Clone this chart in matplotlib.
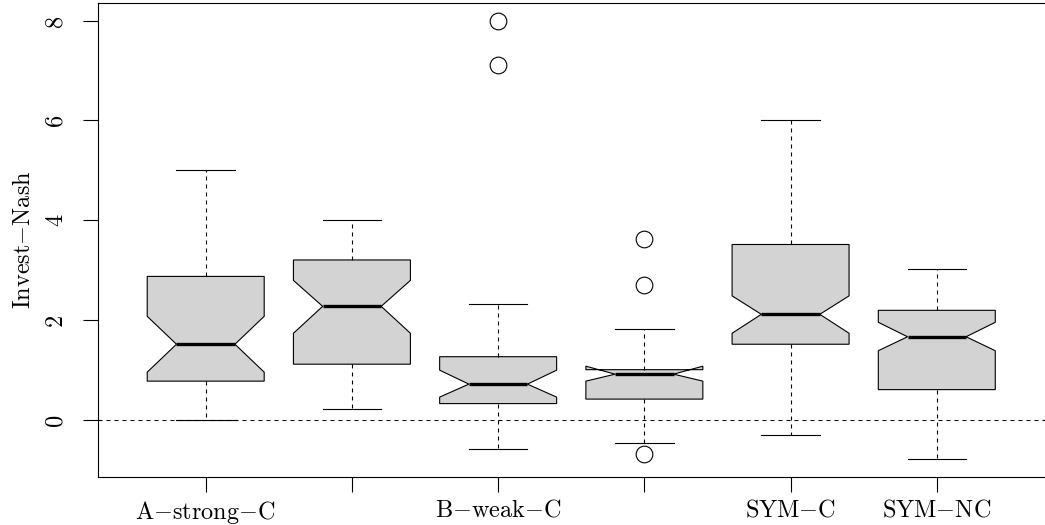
import matplotlib
matplotlib.use("Agg")
import matplotlib.pyplot as plt

# box statistics
labels = ["A$-$strong$-$C", "", "B$-$weak$-$C", "", "SYM$-$C", "SYM$-$NC"]
whislo = [0.0, 0.22, -0.6, -0.48, -0.3, -0.79]
q1 = [0.77, 1.11, 0.32, 0.41, 1.51, 0.60]
cilo = [0.95, 1.73, 0.45, 0.77, 1.73, 1.38]
med = [1.51, 2.27, 0.71, 0.91, 2.11, 1.66]
cihi = [2.07, 2.79, 0.99, 1.07, 2.48, 1.95]
q3 = [2.87, 3.20, 1.26, 1.00, 3.51, 2.19]
whishi = [5.01, 4.01, 2.31, 1.81, 6.00, 3.01]
fliers = [[], [], [7.1, 8.0], [3.62, 2.7, -0.7], [], []]

yticks = [0, 2, 4, 6, 8]

plt.rcParams["font.family"] = ["cmr10", "DejaVu Serif"]
plt.rcParams["mathtext.fontset"] = "cm"
plt.rcParams["font.size"] = 17.5

fig = plt.figure(figsize=(10.45, 5.25), dpi=100)
ax = fig.add_axes([97.5 / 1045, 48 / 525, 1 - 97.5 / 1045, 474 / 525])

stats = []
for i in range(len(labels)):
    stats.append({
        "label": labels[i],
        "whislo": whislo[i], "q1": q1[i], "cilo": cilo[i], "med": med[i],
        "cihi": cihi[i], "q3": q3[i], "whishi": whishi[i],
        "fliers": fliers[i],
    })

positions = list(range(1, len(labels) + 1))
ax.axhline(0, color="black", lw=0.8, ls=(0, (3.6, 3.6)), zorder=1)
ax.bxp(stats, positions=positions, widths=0.8, shownotches=True,
       patch_artist=True,
       boxprops=dict(facecolor="#d3d3d3", edgecolor="black", linewidth=0.8),
       medianprops=dict(color="black", linewidth=2.4),
       whiskerprops=dict(color="black", linewidth=0.8, linestyle=(0, (3.6, 3.6))),
       capprops=dict(color="black", linewidth=0.8),
       flierprops=dict(marker="o", markersize=12, markerfacecolor="none",
                       markeredgecolor="black", markeredgewidth=0.8),
       zorder=2)

ax.set_xlim(0.26, 6.74)
ax.set_ylim(-1.152, 8.352)
ax.set_xticks(positions)
ax.set_xticklabels(labels)
ax.set_yticks(yticks)
ax.set_yticklabels([str(t) for t in yticks], rotation=90, va="center")
ax.tick_params(axis="y", length=11, width=0.8, pad=11)
ax.tick_params(axis="x", length=11, width=0.8, pad=5)
ax.set_ylabel("Invest$-$Nash", labelpad=7)
ax.spines["right"].set_visible(False)
for s in ["left", "top", "bottom"]:
    ax.spines[s].set_linewidth(0.8)

fig.savefig("out.png", dpi=100)
